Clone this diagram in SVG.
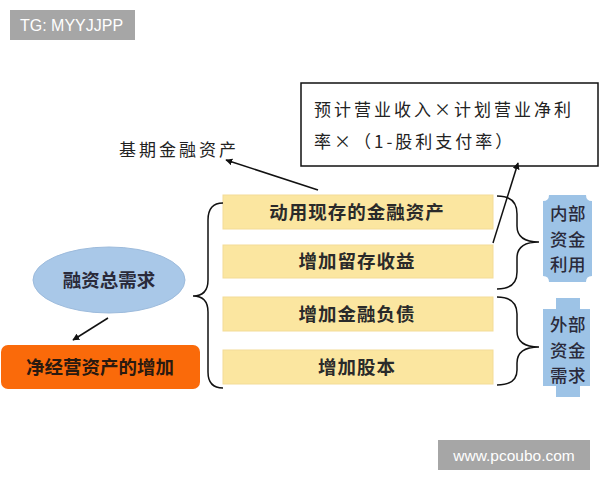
<svg xmlns="http://www.w3.org/2000/svg" width="600" height="480" viewBox="0 0 600 480">
<style>
.wm{fill:#a6a6a6}
.wmt{font-family:"Liberation Sans",Arial,sans-serif;font-size:16px;fill:#ffffff}
.cjk{font-family:"Noto Sans CJK SC",sans-serif}
.note{font-size:17px;fill:#222;letter-spacing:3px}
.ybox{fill:#fbe6a0;stroke:#f3dc97;stroke-width:1}
.yt{font-size:18.5px;font-weight:700;fill:#2a2a2a;text-anchor:middle;letter-spacing:1px}
.bt{font-size:18.5px;font-weight:700;fill:#2a2a3a;text-anchor:middle}
.pt{font-size:17.5px;font-weight:500;fill:#2a2a3a;text-anchor:middle;letter-spacing:0.5px}
.line{fill:none;stroke:#111;stroke-width:1.5}
.brace{fill:none;stroke:#111;stroke-width:1.5}
</style>
<defs>
<marker id="ah" viewBox="0 0 10 10" refX="9" refY="5" markerWidth="7" markerHeight="7" orient="auto" markerUnits="userSpaceOnUse">
<path d="M0,0 L10,5 L0,10 z" fill="#111"/>
</marker>
</defs>
<rect width="600" height="480" fill="#ffffff"/>

<g id="wm-top">
<rect class="wm" x="10" y="10" width="125" height="30"/>
<text class="wmt" x="20" y="31">TG: MYYJJPP</text>
</g>

<g id="wm-bottom">
<rect class="wm" x="438" y="440" width="152" height="30"/>
<text class="wmt" x="514" y="461" text-anchor="middle" style="font-size:15.5px">www.pcoubo.com</text>
</g>

<g id="base-label">
<text class="cjk note" x="119" y="156">基期金融资产</text>
</g>

<g id="formula-box">
<rect x="301" y="83" width="297" height="83" fill="#ffffff" stroke="#111" stroke-width="1.5"/>
<text class="cjk note" x="314" y="116">预计营业收入×计划营业净利</text>
<text class="cjk note" x="314" y="148">率×（1-股利支付率）</text>
</g>

<g id="total-demand">
<ellipse cx="109" cy="280" rx="76" ry="33" fill="#a9c8e8" stroke="#9dbbdc" stroke-width="1"/>
<text class="cjk bt" x="109" y="287">融资总需求</text>
</g>

<g id="net-op-assets">
<rect x="1" y="345" width="199" height="44" rx="7" fill="#fa6a0a"/>
<text class="cjk bt" x="100" y="374" style="fill:#2a1a10">净经营资产的增加</text>
</g>

<g id="box1">
<rect class="ybox" x="223" y="195" width="270" height="34"/>
<text class="cjk yt" x="357" y="219">动用现存的金融资产</text>
</g>
<g id="box2">
<rect class="ybox" x="223" y="245" width="270" height="33"/>
<text class="cjk yt" x="357" y="268">增加留存收益</text>
</g>
<g id="box3">
<rect class="ybox" x="223" y="297" width="270" height="34"/>
<text class="cjk yt" x="357" y="321">增加金融负债</text>
</g>
<g id="box4">
<rect class="ybox" x="223" y="350" width="270" height="34"/>
<text class="cjk yt" x="357" y="374">增加股本</text>
</g>

<g id="internal">
<path d="M549,195 L586,195 Q586,201 592,201 L592,276 Q586,276 586,282 L549,282 Q549,276 543,276 L543,201 Q549,201 549,195 Z" fill="#9dc3e6"/>
<text class="cjk pt" x="568" y="220">内部</text>
<text class="cjk pt" x="568" y="245.5">资金</text>
<text class="cjk pt" x="568" y="271">利用</text>
</g>

<g id="external">
<path d="M556,298 L580,298 L580,309 L590,309 L590,386 L580,386 L580,397 L556,397 L556,386 L543,386 L543,309 L556,309 Z" fill="#9dc3e6"/>
<text class="cjk pt" x="568" y="331">外部</text>
<text class="cjk pt" x="568" y="356.5">资金</text>
<text class="cjk pt" x="568" y="382">需求</text>
</g>

<g id="connectors">
<line class="line" x1="318" y1="190" x2="226" y2="160" marker-end="url(#ah)"/>
<line class="line" x1="493" y1="243" x2="518" y2="163" marker-end="url(#ah)"/>
<line class="line" x1="108" y1="318" x2="73" y2="340" marker-end="url(#ah)"/>
<path class="brace" d="M223,203 Q208,203 208,220 L208,280 Q208,296 193,296 Q208,296 208,312 L208,372 Q208,388 223,388"/>
<path class="brace" d="M497,196 Q517,196 517,214 L517,226 Q517,242 539,242 Q517,242 517,258 L517,272 Q517,289 497,289"/>
<path class="brace" d="M497,297 Q517,297 517,314 L517,331 Q517,347 539,347 Q517,347 517,363 L517,370 Q517,385 497,385"/>
</g>
</svg>
